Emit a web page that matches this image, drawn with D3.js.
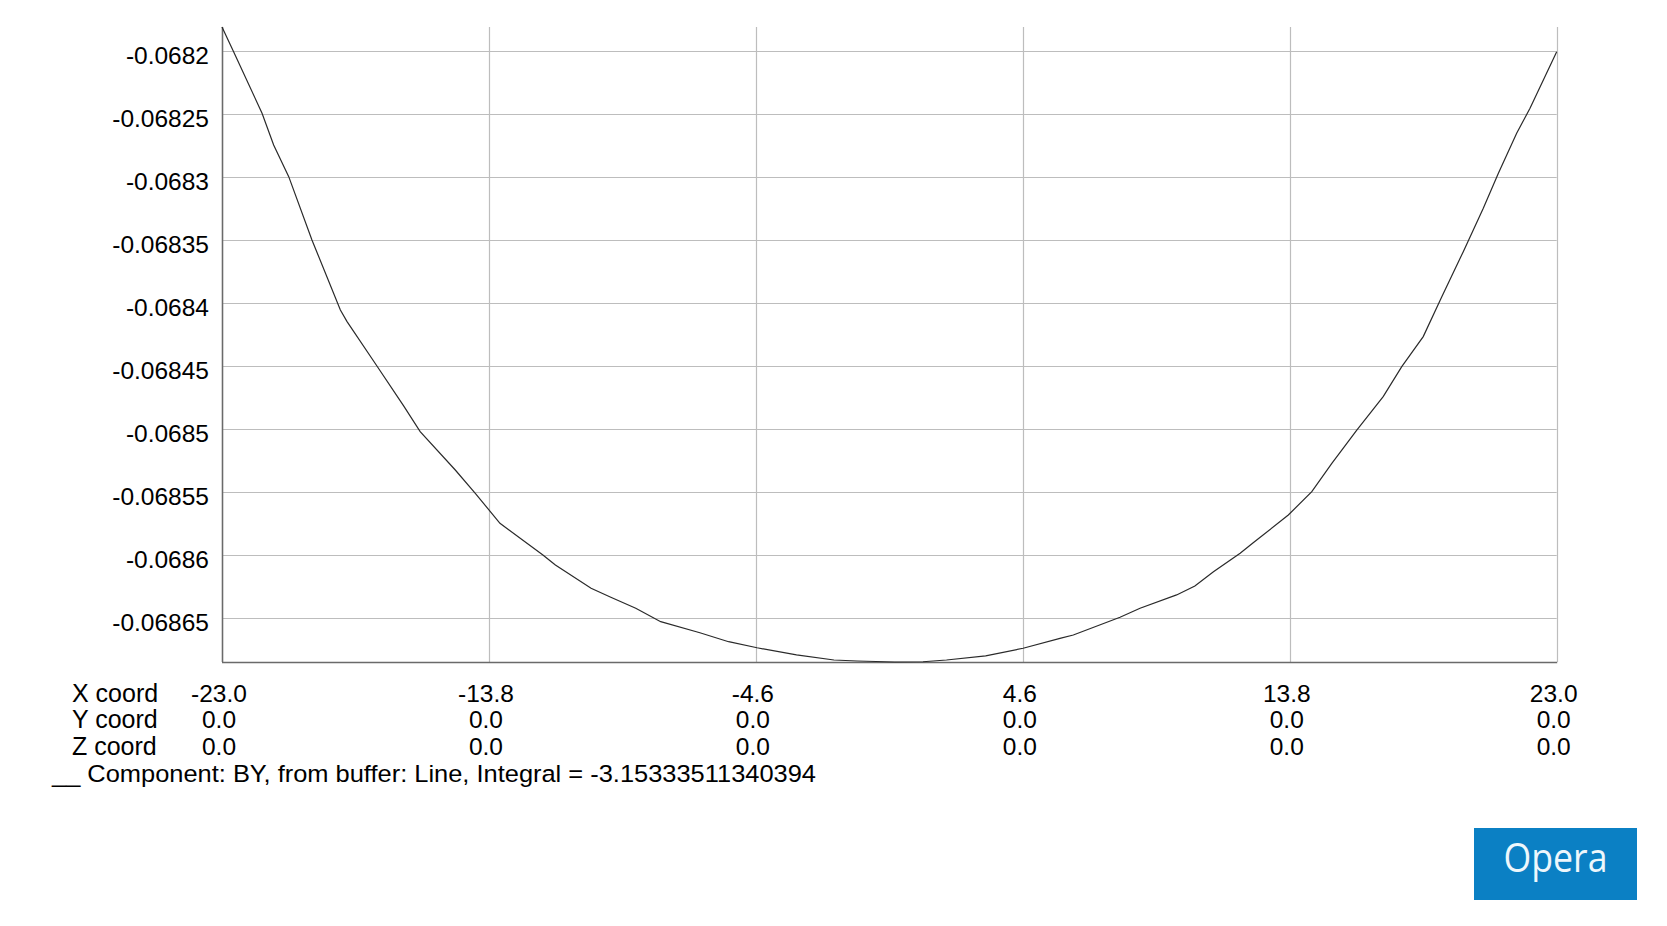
<!DOCTYPE html>
<html>
<head>
<meta charset="utf-8">
<script src="https://cdn.jsdelivr.net/npm/d3@7"></script>
<style>
  html, body { margin: 0; padding: 0; background: #ffffff; }
  svg { display: block; }
  text { font-family: "Liberation Sans", Arial, sans-serif; fill: #000; }
</style>
</head>
<body>
<svg id="chart" width="1667" height="926"></svg>
<script>
// ---- data ----
const xCoords = [-23.00, -22.60, -21.62, -21.22, -20.70, -19.90, -18.92, -18.69, -17.66,
  -16.74, -16.17, -14.96, -14.27, -13.42, -11.94, -11.51, -10.28, -9.60, -8.74,
  -7.88, -6.53, -5.54, -4.56, -3.20, -1.91, -1.11, 0.18, 1.16, 1.97,
  3.32, 4.61, 5.88, 6.34, 7.95, 8.64, 9.90, 10.53, 11.17, 12.09,
  12.54, 13.75, 14.56, 15.25, 16.11, 17.02, 17.66, 18.40, 19.04, 19.78,
  20.47, 20.99, 21.62, 22.08, 23.00];
const byValues = [-0.0681810, -0.0682006, -0.0682494, -0.0682746, -0.0682997, -0.0683499, -0.0684055, -0.0684147, -0.0684499,
  -0.0684816, -0.0685020, -0.0685324, -0.0685509, -0.0685747, -0.0685998, -0.0686077, -0.0686262, -0.0686334, -0.0686421,
  -0.0686527, -0.0686615, -0.0686686, -0.0686734, -0.0686791, -0.0686831, -0.0686839, -0.0686847, -0.0686845, -0.0686831,
  -0.0686799, -0.0686738, -0.0686659, -0.0686633, -0.0686492, -0.0686421, -0.0686315, -0.0686244, -0.0686131, -0.0685985,
  -0.0685901, -0.0685681, -0.0685496, -0.0685271, -0.0685007, -0.0684742, -0.0684504, -0.0684266, -0.0683949, -0.0683592,
  -0.0683248, -0.0682970, -0.0682653, -0.0682455, -0.0682006];
const yTicks = [-0.0682, -0.06825, -0.0683, -0.06835, -0.0684, -0.06845, -0.0685, -0.06855, -0.0686, -0.06865];
const yTickLabels = ["-0.0682", "-0.06825", "-0.0683", "-0.06835", "-0.0684", "-0.06845", "-0.0685", "-0.06855", "-0.0686", "-0.06865"];
const xTicks = [-23.0, -13.8, -4.6, 4.6, 13.8, 23.0];
const xTickLabels = ["-23.0", "-13.8", "-4.6", "4.6", "13.8", "23.0"];
const yCoordLabels = ["0.0", "0.0", "0.0", "0.0", "0.0", "0.0"];
const zCoordLabels = ["0.0", "0.0", "0.0", "0.0", "0.0", "0.0"];
const rowNames = ["X coord", "Y coord", "Z coord"];
const legendText = "__ Component: BY, from buffer: Line, Integral = -3.15333511340394";
const badgeText = "Opera";

// ---- layout ----
const L = 222, R = 1556.7, T = 27, B = 662;
const svg = d3.select("#chart");
const points = xCoords.map((x, i) => ({ x, v: byValues[i] }));

const x = d3.scaleLinear().domain([-23, 23]).range([L, R]);
const y = d3.scaleLinear().domain(d3.extent(byValues)).range([B, T]);

// horizontal grid
svg.append("g").selectAll("line").data(yTicks).join("line")
  .attr("x1", L).attr("x2", R)
  .attr("y1", d => Math.round(y(d)) + 0.5).attr("y2", d => Math.round(y(d)) + 0.5)
  .attr("stroke", "#bdbdbd").attr("stroke-width", 1.2);

// vertical grid
svg.append("g").selectAll("line").data(xTicks).join("line")
  .attr("x1", d => Math.round(x(d)) + 0.5).attr("x2", d => Math.round(x(d)) + 0.5)
  .attr("y1", T).attr("y2", B)
  .attr("stroke", "#bdbdbd").attr("stroke-width", 1.2);

// axis lines (left & bottom)
svg.append("line").attr("x1", L + 0.5).attr("x2", L + 0.5).attr("y1", T).attr("y2", B)
  .attr("stroke", "#6a6a6a").attr("stroke-width", 1.5);
svg.append("line").attr("x1", L).attr("x2", R + 0.5).attr("y1", B + 0.5).attr("y2", B + 0.5)
  .attr("stroke", "#6a6a6a").attr("stroke-width", 1.5);

// the curve
svg.append("path").datum(points)
  .attr("fill", "none").attr("stroke", "#2a2a2a").attr("stroke-width", 1.2)
  .attr("d", d3.line().x(d => x(d.x)).y(d => y(d.v)));

// y tick labels
svg.append("g").selectAll("text").data(yTicks).join("text")
  .attr("x", 209).attr("y", d => y(d) + 13)
  .attr("text-anchor", "end").attr("font-size", 24.5)
  .text((d, i) => yTickLabels[i]);

// bottom table
const rows = [xTickLabels, yCoordLabels, zCoordLabels];
const rowBase = [701.7, 728.3, 755];
rows.forEach((labels, r) => {
  svg.append("text").attr("x", 72).attr("y", rowBase[r]).attr("font-size", 25).text(rowNames[r]);
  svg.append("g").selectAll("text").data(xTicks).join("text")
    .attr("x", d => x(d) - 3).attr("y", rowBase[r])
    .attr("text-anchor", "middle").attr("font-size", 24.5)
    .text((d, i) => labels[i]);
});

svg.append("text").attr("x", 52).attr("y", 781.7).attr("font-size", 24.5)
  .attr("textLength", 764).attr("lengthAdjust", "spacingAndGlyphs")
  .text(legendText);

// Opera badge
svg.append("rect").attr("x", 1474).attr("y", 828).attr("width", 163).attr("height", 72)
  .attr("fill", "#0b80c4");
svg.append("text").attr("x", 1555.5).attr("y", 871.5)
  .attr("text-anchor", "middle").attr("font-size", 40)
  .attr("textLength", 104).attr("lengthAdjust", "spacingAndGlyphs")
  .style("font-family", "'Open Sans', 'Noto Sans', sans-serif")
  .style("fill", "#eef7fc")
  .text(badgeText);
</script>
</body>
</html>
